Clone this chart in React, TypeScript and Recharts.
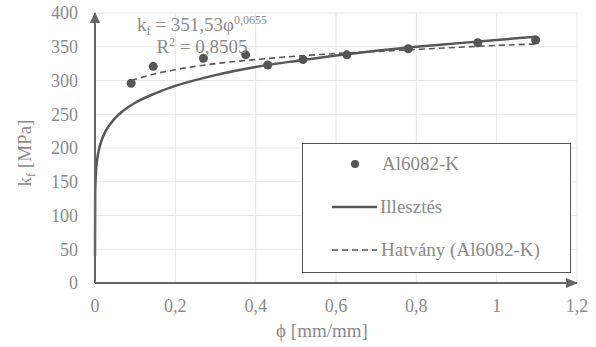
import React from "react";
import {
  ComposedChart,
  Line,
  Scatter,
  XAxis,
  YAxis,
  CartesianGrid,
  ReferenceDot,
} from "recharts";

// measured points (Al6082-K)
const measX = [0.09, 0.145, 0.27, 0.375, 0.43, 0.518, 0.627, 0.78, 0.953, 1.097];
const measY = [296, 321, 333, 338, 323, 331, 338, 347, 356, 360];

// fitted curve (Illesztés)
const fitX = [0, 0.0005, 0.002, 0.005, 0.01, 0.02, 0.04, 0.07, 0.1, 0.15, 0.2, 0.3, 0.4, 0.5, 0.6, 0.7, 0.8, 0.9, 1.0, 1.1];
const fitY = [40, 134, 160, 181, 198, 217, 237, 255, 267, 281, 292, 308, 320, 329, 337, 344, 350, 355, 360, 365];

// power trendline (Hatvány)
const powX = [0.09, 0.15, 0.2, 0.3, 0.4, 0.5, 0.6, 0.7, 0.8, 0.9, 1.0, 1.1];
const powY = [300, 310, 316, 325, 331, 336, 340, 343, 346, 349, 352, 354];

const xTicks = [0, 0.2, 0.4, 0.6, 0.8, 1, 1.2];
const yTicks = [0, 50, 100, 150, 200, 250, 300, 350, 400];

const measured = measX.map((x, i) => ({ x, y: measY[i] }));
const fitted = fitX.map((x, i) => ({ x, y: fitY[i] }));
const power = powX.map((x, i) => ({ x, y: powY[i] }));

const FONT = "Liberation Serif, Times New Roman, serif";
const TXT = "#8a8a8a";
const AXIS = "#666";
const txtStyle = { fontFamily: FONT };

const fmt = (v: number) => String(v).replace(".", ",");

const UpArrow = (p: any) => (
  <polygon points={`${p.cx},${p.cy - 1} ${p.cx - 5},${p.cy + 10} ${p.cx + 5},${p.cy + 10}`} fill={AXIS} />
);
const RightArrow = (p: any) => (
  <polygon points={`${p.cx + 1},${p.cy} ${p.cx - 11},${p.cy - 5} ${p.cx - 11},${p.cy + 5}`} fill={AXIS} />
);

export default function App() {
  return (
    <div style={{ position: "absolute", left: 0, top: 0, width: 596, height: 347, background: "#fff", fontFamily: FONT }}>
      <ComposedChart
        width={596}
        height={347}
        margin={{ top: 13, right: 19, bottom: 34, left: 0 }}
        style={{ fontFamily: FONT }}
      >
        <CartesianGrid stroke="#e6e6e6" strokeWidth={1} />
        <XAxis
          type="number"
          dataKey="x"
          domain={[0, 1.2]}
          ticks={xTicks}
          tickFormatter={fmt}
          height={30}
          axisLine={{ stroke: AXIS, strokeWidth: 2 }}
          tickLine={false}
          tickSize={0}
          tickMargin={16}
          tick={{ fill: TXT, fontSize: 18, style: txtStyle }}
          label={{
            content: () => (
              <text x={322} y={337} textAnchor="middle" fill={TXT} fontSize={19} style={txtStyle}>
                ϕ [mm/mm]
              </text>
            ),
          }}
        />
        <YAxis
          type="number"
          dataKey="y"
          domain={[0, 400]}
          ticks={yTicks}
          width={95}
          axisLine={{ stroke: AXIS, strokeWidth: 2 }}
          tickLine={false}
          tickSize={0}
          tickMargin={17}
          tick={{ fill: TXT, fontSize: 18, style: txtStyle }}
          label={{
            content: () => (
              <text x={31} y={153} transform="rotate(-90 31 153)" textAnchor="middle" fill={TXT} fontSize={19} style={txtStyle}>
                k<tspan dy={4} fontSize={12}>f</tspan>
                <tspan dy={-4}> [MPa]</tspan>
              </text>
            ),
          }}
        />
        <Line
          data={fitted}
          dataKey="y"
          type="monotone"
          stroke="#575757"
          strokeWidth={2.5}
          dot={false}
          isAnimationActive={false}
        />
        <Line
          data={power}
          dataKey="y"
          type="monotone"
          stroke="#555"
          strokeWidth={1.6}
          strokeDasharray="6 4"
          dot={false}
          isAnimationActive={false}
        />
        <Scatter
          data={measured}
          dataKey="y"
          fill="#555"
          shape={(p: any) => <circle cx={p.cx} cy={p.cy} r={4.5} fill="#555" />}
          isAnimationActive={false}
        />
        <ReferenceDot x={0} y={400} shape={UpArrow} ifOverflow="visible" />
        <ReferenceDot x={1.2} y={0} shape={RightArrow} ifOverflow="visible" />
      </ComposedChart>

      <svg width={596} height={347} style={{ position: "absolute", left: 0, top: 0, pointerEvents: "none" }}>
        <text x={202} y={31} textAnchor="middle" fill={TXT} fontSize={19} style={txtStyle}>
          k<tspan dy={4} fontSize={12}>f</tspan>
          <tspan dy={-4}> = 351,53φ</tspan>
          <tspan dy={-7} fontSize={12}>0,0655</tspan>
        </text>
        <text x={202} y={53} textAnchor="middle" fill={TXT} fontSize={19} style={txtStyle}>
          R<tspan dy={-7} fontSize={12}>2</tspan>
          <tspan dy={7}> = 0,8505</tspan>
        </text>
      </svg>

      <div style={{ position: "absolute", left: 302, top: 143, width: 267, height: 128, border: "1.5px solid #555", background: "#fff" }}>
        <svg width={267} height={128} style={{ position: "absolute", left: 0, top: 0 }}>
          <circle cx={52} cy={20} r={4} fill="#555" />
          <text x={79} y={26} fill={TXT} fontSize={19} style={txtStyle}>Al6082-K</text>
          <line x1={29} x2={74} y1={63} y2={63} stroke="#575757" strokeWidth={2.5} />
          <text x={77} y={69} fill={TXT} fontSize={19} style={txtStyle}>Illesztés</text>
          <line x1={29} x2={74} y1={106} y2={106} stroke="#555" strokeWidth={1.6} strokeDasharray="6 4" />
          <text x={78} y={112} fill={TXT} fontSize={19} style={txtStyle}>Hatvány (Al6082-K)</text>
        </svg>
      </div>
    </div>
  );
}
